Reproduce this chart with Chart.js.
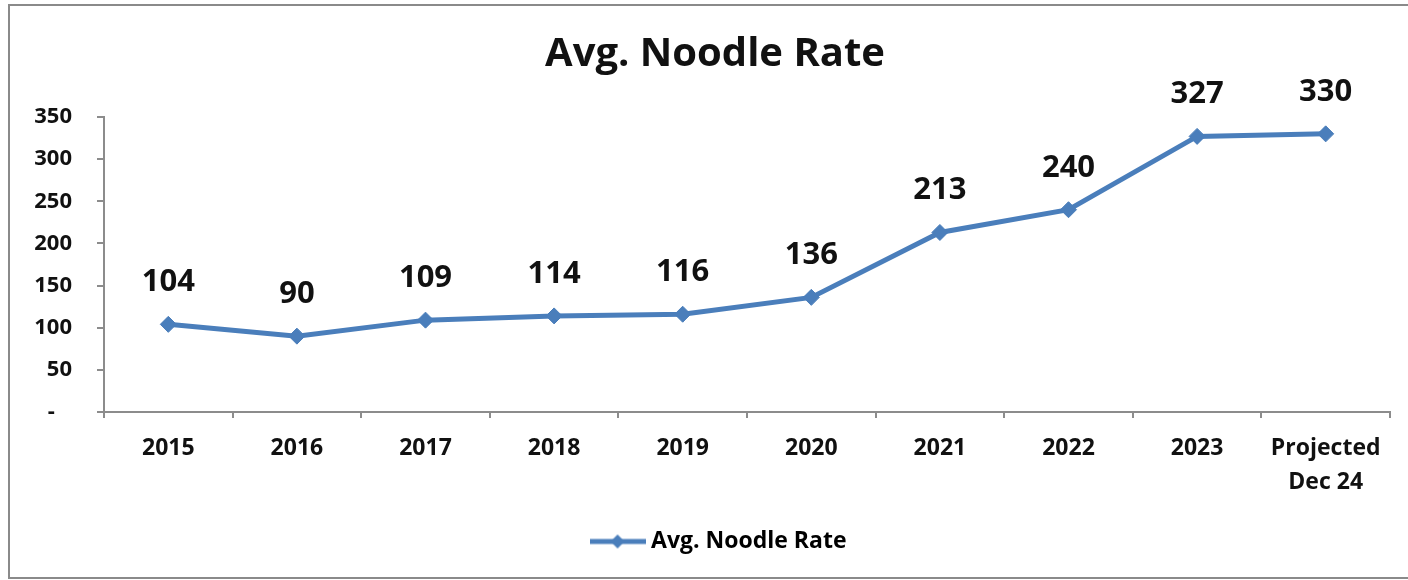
<!DOCTYPE html>
<html>
<head>
<meta charset="utf-8">
<script src="https://cdn.jsdelivr.net/npm/chart.js@4.4.1/dist/chart.umd.min.js"></script>
<style>
  html, body { margin: 0; padding: 0; background: #fff; }
  canvas { display: block; }
</style>
</head>
<body>
<canvas id="noodleChart" width="1408" height="580"></canvas>
<script>
const categories = ['2015', '2016', '2017', '2018', '2019', '2020', '2021', '2022', '2023', ['Projected', 'Dec 24']];
const noodleRate = [104, 90, 109, 114, 116, 136, 213, 240, 327, 330];
const yTicks = [0, 50, 100, 150, 200, 250, 300, 350];

const blue = '#4a7ebb';
const font = '"Open Sans"';

// legend marker: line with a diamond in the middle
function legendMarker() {
    const c = document.createElement('canvas');
    c.width = 56;
    c.height = 18;
    const ctx = c.getContext('2d');
    ctx.strokeStyle = blue;
    ctx.lineWidth = 5;
    ctx.beginPath();
    ctx.moveTo(0, 9);
    ctx.lineTo(56, 9);
    ctx.stroke();
    ctx.fillStyle = blue;
    ctx.beginPath();
    ctx.moveTo(21, 9);
    ctx.lineTo(28, 2);
    ctx.lineTo(35, 9);
    ctx.lineTo(28, 16);
    ctx.closePath();
    ctx.fill();
    return c;
}

const frame = {
    id: 'frame',
    beforeDraw(chart) {
        const ctx = chart.ctx;
        ctx.save();
        ctx.fillStyle = '#fff';
        ctx.fillRect(0, 0, chart.width, chart.height);
        ctx.strokeStyle = '#8a8a8a';
        ctx.lineWidth = 2;
        ctx.strokeRect(9, 5, 1420, 573);
        ctx.restore();
    }
};

// title and legend sit a little right of the canvas centre
const nudge = {
    id: 'nudge',
    afterLayout(chart) {
        chart.titleBlock.left += 10;
        chart.titleBlock.right += 10;
        chart.legend.left += 16;
        chart.legend.right += 16;
    }
};

const valueLabels = {
    id: 'valueLabels',
    afterDatasetsDraw(chart) {
        const ctx = chart.ctx;
        const meta = chart.getDatasetMeta(0);
        ctx.save();
        ctx.font = 'bold 31px ' + font;
        ctx.fillStyle = '#111';
        ctx.textAlign = 'center';
        ctx.textBaseline = 'middle';
        meta.data.forEach((pt, i) => {
            ctx.fillText(noodleRate[i], pt.x, pt.y - 42);
        });
        ctx.restore();
    }
};

new Chart(document.getElementById('noodleChart'), {
    type: 'line',
    data: {
        labels: categories,
        datasets: [{
            label: 'Avg. Noodle Rate',
            data: noodleRate,
            borderColor: blue,
            backgroundColor: blue,
            borderWidth: 5,
            pointStyle: 'rectRot',
            pointRadius: 8,
            pointBorderWidth: 1,
            tension: 0
        }]
    },
    options: {
        responsive: false,
        animation: false,
        devicePixelRatio: 1,
        layout: { padding: { left: 20, right: 18, top: 0, bottom: 17 } },
        plugins: {
            title: {
                display: true,
                text: 'Avg. Noodle Rate',
                color: '#111',
                font: { family: font, size: 40, weight: 'bold' },
                padding: { top: 31, bottom: 38 }
            },
            legend: {
                position: 'bottom',
                labels: {
                    color: '#222',
                    font: { family: font, size: 23, weight: 'bold' },
                    usePointStyle: true,
                    pointStyleWidth: 44,
                    generateLabels: () => [{
                        text: 'Avg. Noodle Rate',
                        pointStyle: legendMarker(),
                        fillStyle: blue,
                        strokeStyle: blue,
                        lineWidth: 0,
                        datasetIndex: 0
                    }]
                }
            },
            tooltip: { enabled: false }
        },
        scales: {
            x: {
                offset: true,
                grid: {
                    offset: true,
                    drawOnChartArea: false,
                    color: '#8c8c8c',
                    lineWidth: 2,
                    tickLength: 6
                },
                border: { color: '#8c8c8c', width: 2 },
                ticks: {
                    color: '#111',
                    padding: 13,
                    font: { family: font, size: 23, weight: 'bold', lineHeight: 1.48 }
                },
                afterFit(scale) { scale.height = 108; }
            },
            y: {
                min: 0,
                max: 350,
                afterBuildTicks(scale) { scale.ticks = yTicks.map(v => ({ value: v })); },
                grid: {
                    drawOnChartArea: false,
                    color: '#8c8c8c',
                    lineWidth: 2,
                    tickLength: 7
                },
                border: { color: '#8c8c8c', width: 2 },
                ticks: {
                    color: '#111',
                    padding: 25,
                    font: { family: font, size: 22, weight: 'bold' },
                    callback: v => v === 0 ? '-   ' : v
                },
                afterFit(scale) { scale.width = 84; }
            }
        }
    },
    plugins: [frame, nudge, valueLabels]
});
</script>
</body>
</html>
